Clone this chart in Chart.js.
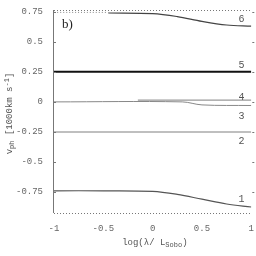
<!DOCTYPE html>
<html>
<head>
<meta charset="utf-8">
<script src="https://cdn.jsdelivr.net/npm/chart.js@4"></script>
<style>
  html, body { margin: 0; padding: 0; background: #fff; }
  #wrap { width: 256px; height: 256px; position: relative; }
</style>
</head>
<body>
<div id="wrap"><canvas id="c"></canvas></div>
<script>
// ── data ──
const xTicks = [-1, -0.5, 0, 0.5, 1];
const yTicks = [-0.75, -0.5, -0.25, 0, 0.25, 0.5, 0.75];
const yTickLabels = ['-0.75', '-0.5', '-0.25', '0', '0.25', '0.5', '0.75'];

const x1 = [-1, -0.5, 0, 0.25, 0.5, 0.75, 1];
const y1 = [-0.74, -0.74, -0.745, -0.77, -0.81, -0.85, -0.875];
const x2 = [-1, 1];
const y2 = [-0.25, -0.25];
const x3 = [-1, 0.3, 0.5, 1];
const y3 = [0, 0, -0.025, -0.03];
const x4 = [-0.15, 0.2, 1];
const y4 = [0.015, 0.015, 0.015];
const x5 = [-1, 1];
const y5 = [0.25, 0.25];
const x6 = [-0.45, 0, 0.25, 0.5, 0.75, 1];
const y6 = [0.74, 0.735, 0.71, 0.67, 0.64, 0.63];
const xTop = [-1, -0.45];
const yTop = [0.745, 0.745];

const curveLabels = ['1', '2', '3', '4', '5', '6'];
const labelX = [0.9, 0.9, 0.9, 0.9, 0.9, 0.9];
const labelY = [-0.81, -0.33, -0.12, 0.04, 0.30, 0.683];

function pts(xs, ys) { return xs.map((x, i) => ({ x: x, y: ys[i] })); }

const MONO = '"Liberation Mono", "DejaVu Sans Mono", monospace';
const SERIF = '"Liberation Serif", "DejaVu Serif", serif';

// ── extra text: curve numbers, panel tag, axis titles ──
const annot = {
  id: 'annot',
  afterDraw(chart) {
    const { ctx, scales: { x, y }, chartArea } = chart;
    ctx.save();
    ctx.fillStyle = '#555';
    ctx.font = '10px ' + MONO;
    ctx.textAlign = 'center';
    ctx.textBaseline = 'middle';
    curveLabels.forEach((t, i) => {
      ctx.fillText(t, x.getPixelForValue(labelX[i]), y.getPixelForValue(labelY[i]));
    });

    // panel tag
    ctx.fillStyle = '#222';
    ctx.font = '13px ' + SERIF;
    ctx.textAlign = 'left';
    ctx.fillText('b)', chartArea.left + 8, chartArea.top + 15);

    // x title
    ctx.fillStyle = '#555';
    const cx = (chartArea.left + chartArea.right) / 2;
    const main = 'log(λ/ L';
    const sub = 'Sobo';
    ctx.font = '9px ' + MONO;
    const wMain = ctx.measureText(main).width;
    ctx.font = '7px ' + MONO;
    const wSub = ctx.measureText(sub).width;
    let sx = cx - (wMain + wSub + 5) / 2 + 2;
    ctx.font = '9px ' + MONO;
    ctx.fillText(main, sx, 243);
    ctx.font = '7px ' + MONO;
    ctx.fillText(sub, sx + wMain, 245);
    ctx.font = '9px ' + MONO;
    ctx.fillText(')', sx + wMain + wSub, 243);

    // y title, rotated
    ctx.translate(10, (chartArea.top + chartArea.bottom) / 2 + 2);
    ctx.rotate(-Math.PI / 2);
    ctx.textAlign = 'left';
    const parts = [
      ['v', '9px', 0],
      ['ph', '7px', 2],
      [' [1000km s', '9px', 0],
      ['-1', '7px', -3],
      [']', '9px', 0],
    ];
    let total = 0;
    parts.forEach(p => { ctx.font = p[1] + ' ' + MONO; total += ctx.measureText(p[0]).width; });
    let px = -total / 2;
    parts.forEach(p => {
      ctx.font = p[1] + ' ' + MONO;
      ctx.fillText(p[0], px, p[2]);
      px += ctx.measureText(p[0]).width;
    });
    ctx.restore();

    // left axis line, dotted top frame and dotted bottom axis
    ctx.save();
    ctx.strokeStyle = '#777';
    ctx.lineWidth = 1;
    ctx.beginPath();
    ctx.moveTo(chartArea.left - 0.5, chartArea.top);
    ctx.lineTo(chartArea.left - 0.5, chartArea.bottom);
    ctx.stroke();
    ctx.setLineDash([1, 2]);
    ctx.beginPath();
    ctx.moveTo(chartArea.left, chartArea.top + 0.5);
    ctx.lineTo(chartArea.right, chartArea.top + 0.5);
    ctx.moveTo(chartArea.left, chartArea.bottom + 0.5);
    ctx.lineTo(chartArea.right, chartArea.bottom + 0.5);
    ctx.stroke();
    // small ticks on right edge and at y tick positions
    ctx.setLineDash([]);
    ctx.beginPath();
    yTicks.forEach(v => {
      const py = Math.round(y.getPixelForValue(v)) + 0.5;
      ctx.moveTo(chartArea.left, py);
      ctx.lineTo(chartArea.left + 2, py);
      ctx.moveTo(chartArea.right + 1, py);
      ctx.lineTo(chartArea.right + 3, py);
    });
    ctx.stroke();
    ctx.restore();
  }
};

const line = (data, color, width, dash) => ({
  data: data,
  borderColor: color,
  borderWidth: width,
  borderDash: dash || [],
  pointRadius: 0,
  tension: 0.35,
  fill: false,
});

new Chart(document.getElementById('c'), {
  type: 'line',
  data: {
    datasets: [
      line(pts(x1, y1), '#555', 1.2),
      line(pts(x2, y2), '#aaa', 1.5),
      line(pts(x3, y3), '#888', 1),
      line(pts(x4, y4), '#999', 1.2),
      line(pts(x5, y5), '#111', 2),
      line(pts(x6, y6), '#444', 1.2),
      line(pts(xTop, yTop), '#888', 1, [1, 2]),
    ],
  },
  options: {
    responsive: true,
    maintainAspectRatio: false,
    animation: false,
    layout: { padding: { top: 10, right: 4, left: 0, bottom: 0 } },
    plugins: { legend: { display: false }, tooltip: { enabled: false } },
    scales: {
      x: {
        type: 'linear',
        min: -1,
        max: 1,
        afterBuildTicks: s => { s.ticks = xTicks.map(v => ({ value: v })); },
        afterFit: s => { s.height = 43; },
        border: { display: false },
        grid: { display: false },
        ticks: {
          color: '#666',
          font: { family: MONO, size: 9 },
          padding: 2,
          maxRotation: 0,
          callback: v => String(v),
        },
      },
      y: {
        type: 'linear',
        min: -0.925,
        max: 0.765,
        afterBuildTicks: s => { s.ticks = yTicks.map(v => ({ value: v })); },
        afterFit: s => { s.width = 54; },
        border: { display: false },
        grid: { display: false },
        ticks: {
          color: '#666',
          font: { family: MONO, size: 9 },
          padding: 3,
          callback: v => yTickLabels[yTicks.indexOf(v)] || '',
        },
      },
    },
  },
  plugins: [annot],
});
</script>
</body>
</html>
